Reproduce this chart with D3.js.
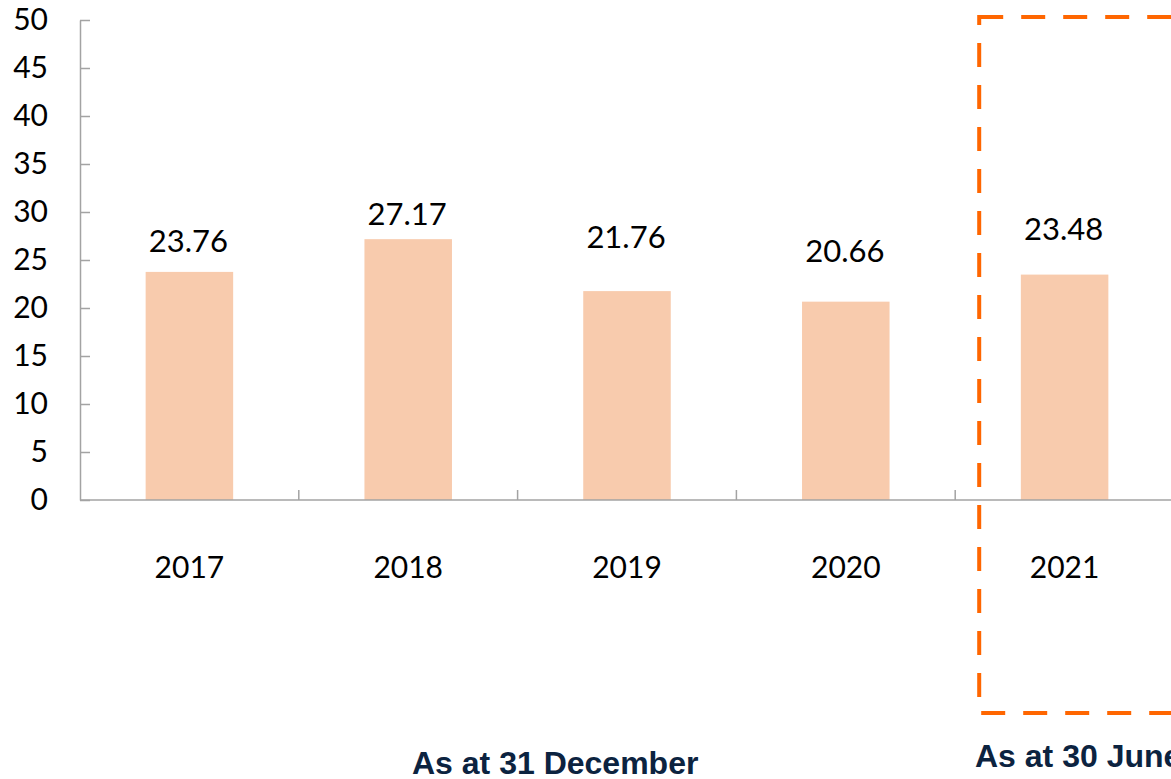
<!DOCTYPE html>
<html>
<head>
<meta charset="utf-8">
<script src="https://cdn.jsdelivr.net/npm/d3@7"></script>
<style>
  body { margin: 0; background: #fff; }
  svg { display: block; }
</style>
</head>
<body>
<svg width="1171" height="779"></svg>
<script>
// data
var years = ['2017', '2018', '2019', '2020', '2021'];
var values = [23.76, 27.17, 21.76, 20.66, 23.48];
var yTicks = [0, 5, 10, 15, 20, 25, 30, 35, 40, 45, 50];

// value labels were placed by hand in the original, so gap above each bar differs
var labelGap = [20, 14, 43, 40, 35];

var svg = d3.select('svg');

var numFont = 'Lato, "Open Sans", sans-serif';
var axisColor = '#a3a3a3';

// plot area
var plot = {l: 80, r: 1174, t: 20, b: 500};

var xScale = d3.scaleBand()
  .domain(years)
  .range([plot.l, plot.r])
  .paddingInner(0.6)
  .paddingOuter(0.3);

var yScale = d3.scaleLinear()
  .domain([0, 50])
  .range([plot.b, plot.t]);

var step = xScale.step();

// bars
svg.selectAll('rect.bar')
  .data(values)
  .enter()
  .append('rect')
  .attr('class', 'bar')
  .attr('x', (d, i) => xScale(years[i]))
  .attr('y', d => yScale(d))
  .attr('width', xScale.bandwidth())
  .attr('height', d => yScale(0) - yScale(d))
  .style('fill', '#f8cbad');

// y axis, ticks pointing inward
var yAxis = d3.axisLeft(yScale)
  .tickValues(yTicks)
  .tickSizeInner(-10)
  .tickSizeOuter(0)
  .tickPadding(32);

var yG = svg.append('g')
  .attr('transform', 'translate(' + plot.l + ',0)')
  .call(yAxis);
yG.select('.domain').style('stroke', axisColor).style('stroke-width', 1.5);
yG.selectAll('.tick line').style('stroke', axisColor).style('stroke-width', 1.5);
yG.selectAll('.tick text')
  .style('font-family', numFont)
  .style('font-size', '30px')
  .style('fill', '#000');

// x axis line
svg.append('line')
  .attr('x1', plot.l)
  .attr('x2', 1171)
  .attr('y1', yScale(0))
  .attr('y2', yScale(0))
  .style('stroke', axisColor)
  .style('stroke-width', 1.5);

// category boundary ticks (upward)
svg.selectAll('line.xtick')
  .data(years.slice(1))
  .enter()
  .append('line')
  .attr('class', 'xtick')
  .attr('x1', d => xScale(d) + xScale.bandwidth() / 2 - step / 2)
  .attr('x2', d => xScale(d) + xScale.bandwidth() / 2 - step / 2)
  .attr('y1', yScale(0))
  .attr('y2', yScale(0) - 10)
  .style('stroke', axisColor)
  .style('stroke-width', 1.5);

// category labels
svg.selectAll('text.xlabel')
  .data(years)
  .enter()
  .append('text')
  .attr('class', 'xlabel')
  .attr('x', d => xScale(d) + xScale.bandwidth() / 2)
  .attr('y', 578)
  .attr('text-anchor', 'middle')
  .style('font-family', numFont)
  .style('font-size', '30px')
  .style('fill', '#000')
  .text(d => d);

// value labels
svg.selectAll('text.value')
  .data(values)
  .enter()
  .append('text')
  .attr('class', 'value')
  .attr('x', (d, i) => xScale(years[i]) + xScale.bandwidth() / 2 - 1)
  .attr('y', (d, i) => yScale(d) - labelGap[i])
  .attr('text-anchor', 'middle')
  .style('font-family', numFont)
  .style('font-size', '31px')
  .style('fill', '#000')
  .text(d => d.toFixed(2));

// dashed highlight around the interim period
var boxLeft = xScale('2021') + xScale.bandwidth() / 2 - step / 2 + 24;
svg.append('rect')
  .attr('x', boxLeft)
  .attr('y', 17)
  .attr('width', 400)
  .attr('height', 696)
  .style('fill', 'none')
  .style('stroke', '#ff6600')
  .style('stroke-width', 4)
  .style('stroke-dasharray', '24,18');

// period captions
svg.append('text')
  .attr('x', 412)
  .attr('y', 774)
  .style('font-family', '"Liberation Sans", Arial, sans-serif')
  .style('font-weight', 'bold')
  .style('font-size', '32px')
  .style('fill', '#0c2340')
  .text('As at 31 December');

svg.append('text')
  .attr('x', 975)
  .attr('y', 767)
  .style('font-family', '"Liberation Sans", Arial, sans-serif')
  .style('font-weight', 'bold')
  .style('font-size', '32px')
  .style('fill', '#0c2340')
  .text('As at 30 June');
</script>
</body>
</html>
